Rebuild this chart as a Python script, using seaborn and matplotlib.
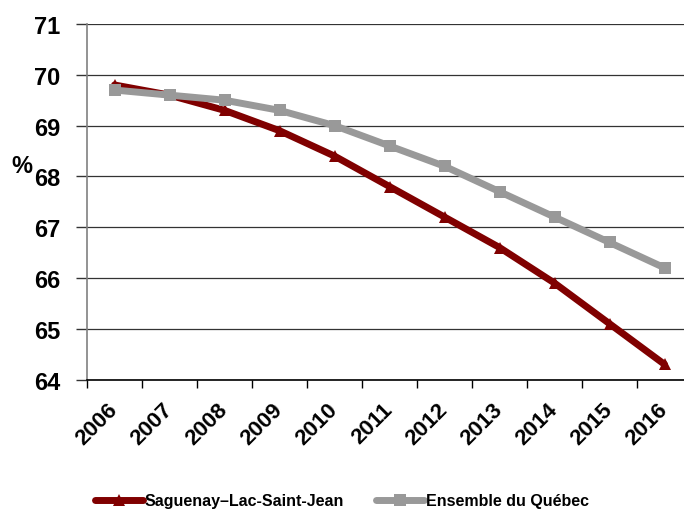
import numpy as np
import pandas as pd
import matplotlib
matplotlib.use("Agg")
import matplotlib.pyplot as plt
import seaborn as sns
from matplotlib.lines import Line2D

# Data
years = ["2006", "2007", "2008", "2009", "2010", "2011",
         "2012", "2013", "2014", "2015", "2016"]
saguenay = [69.8, 69.6, 69.3, 68.9, 68.4, 67.8, 67.2, 66.6, 65.9, 65.1, 64.3]
quebec = [69.7, 69.6, 69.5, 69.3, 69.0, 68.6, 68.2, 67.7, 67.2, 66.7, 66.2]
series_names = ["Saguenay\u2013Lac-Saint-Jean", "Ensemble du Qu\u00e9bec"]

sns.set_theme(style="white")
plt.rcParams['font.family'] = ['Liberation Sans', 'DejaVu Sans']
plt.rcParams['font.weight'] = 'bold'
plt.rcParams['text.color'] = 'black'
plt.rcParams['axes.labelcolor'] = 'black'

df = pd.DataFrame({
    'pos': list(range(len(years))) * 2,
    'value': saguenay + quebec,
    'series': [series_names[0]] * len(years) + [series_names[1]] * len(years),
})

fig = plt.figure(figsize=(6.84, 5.10), dpi=100)
ax = fig.add_axes([87 / 684, 129.4 / 510, 605 / 684, 355.6 / 510])

# Draw both series
sns.lineplot(data=df, x='pos', y='value', hue='series', style='series',
             palette=['#800000', '#999999'],
             markers=['^', 's'], dashes=False, markersize=8,
             markeredgewidth=0, linewidth=5, ax=ax, legend=False)

# Axes, ticks and grid
ax.set_xlim(-0.5, len(years) - 0.5)
ax.set_ylim(64, 71)
ax.set_yticks(range(64, 72))
ax.set_yticklabels([str(v) for v in range(64, 72)], fontsize=17, fontweight='bold')
ax.set_xticks(range(len(years)))
ax.set_xticklabels(years, fontsize=16, fontweight='bold', rotation=45,
                   ha='right', va='center', rotation_mode='anchor')
ax.set_xticks(np.arange(-0.5, len(years)), minor=True)
ax.tick_params(axis='x', which='major', length=0, pad=19, labelcolor='black')
ax.tick_params(axis='x', which='minor', length=6, width=1, color='black',
               direction='out', bottom=True)
ax.tick_params(axis='y', length=8, width=1, color='#333333', direction='out',
               left=True, pad=11, labelcolor='black')
ax.yaxis.grid(True, color='#333333', linewidth=0.9)
ax.set_xlabel('')
ax.set_ylabel('%', fontsize=17, fontweight='bold', rotation=0, va='center', ha='center')
ax.yaxis.set_label_coords(-0.107, 0.603)

for s in ['top', 'right']:
    ax.spines[s].set_visible(False)
ax.spines['left'].set_color('#808080')
ax.spines['left'].set_linewidth(1.2)
ax.spines['bottom'].set_color('black')
ax.spines['bottom'].set_linewidth(1.2)

# Legend below the chart
handles = [
    Line2D([], [], color='#800000', linewidth=5, marker='^', markersize=8,
           markeredgewidth=0),
    Line2D([], [], color='#999999', linewidth=5, marker='s', markersize=8,
           markeredgewidth=0),
]
fig.legend(handles, series_names, loc='center', bbox_to_anchor=(0.5, 8 / 510),
           ncol=2, frameon=False, handlelength=3.0,
           handletextpad=0.1, columnspacing=2.0, prop={'weight': 'bold', 'size': 11.5})

fig.savefig('out.png', dpi=100)
